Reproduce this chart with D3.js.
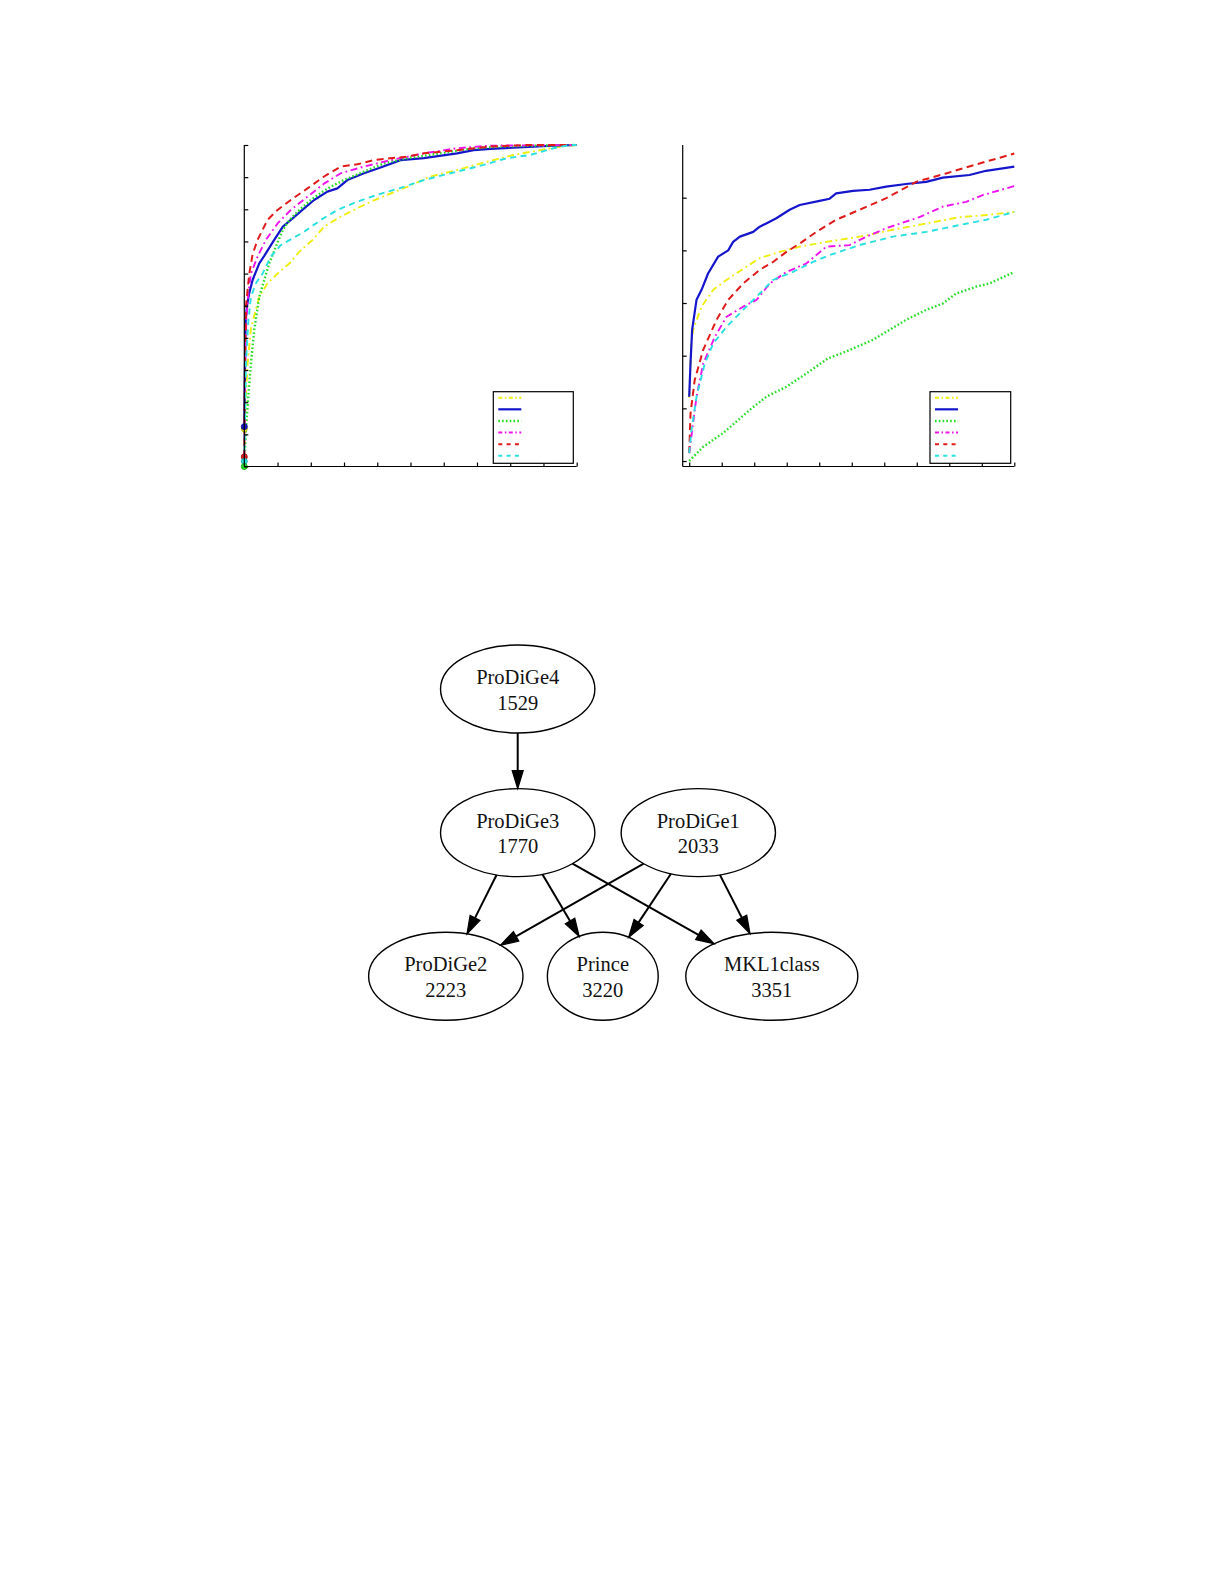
<!DOCTYPE html>
<html>
<head>
<meta charset="utf-8">
<script src="https://cdn.jsdelivr.net/npm/d3@7/dist/d3.min.js"></script>
<style>
  html, body { margin: 0; padding: 0; background: #fff; }
  svg { display: block; }
</style>
</head>
<body>
<svg id="fig" width="1225" height="1585"></svg>
<script>
// ---------------- DATA ----------------
const seriesKeys = ["yellow", "blue", "green", "magenta", "red", "cyan"];

// Left panel curves [x, y]
const leftYellow = [[0,0.117],[0.005,0.22],[0.01,0.32],[0.02,0.43],[0.045,0.528],[0.07,0.57],[0.1,0.6],[0.136,0.632],[0.171,0.674],[0.206,0.705],[0.24,0.746],[0.29,0.777],[0.33,0.798],[0.37,0.819],[0.43,0.845],[0.49,0.87],[0.56,0.902],[0.64,0.922],[0.73,0.948],[0.81,0.969],[0.89,0.984],[0.96,0.997],[1,1]];
const leftBlue = [[0,0.124],[0.002,0.3],[0.004,0.45],[0.008,0.5],[0.015,0.54],[0.025,0.58],[0.045,0.632],[0.06,0.655],[0.09,0.705],[0.116,0.746],[0.14,0.767],[0.18,0.803],[0.21,0.829],[0.25,0.855],[0.28,0.865],[0.31,0.891],[0.36,0.912],[0.41,0.93],[0.47,0.953],[0.54,0.959],[0.64,0.974],[0.69,0.984],[0.74,0.988],[0.84,0.993],[0.93,0.998],[1,1]];
const leftGreen = [[0,0],[0.005,0.114],[0.012,0.218],[0.02,0.321],[0.03,0.425],[0.045,0.528],[0.06,0.58],[0.075,0.632],[0.095,0.684],[0.116,0.736],[0.136,0.767],[0.166,0.798],[0.2,0.829],[0.236,0.855],[0.26,0.87],[0.3,0.891],[0.36,0.917],[0.42,0.943],[0.49,0.959],[0.59,0.974],[0.69,0.99],[0.77,0.995],[0.88,0.998],[1,1]];
const leftMagenta = [[0,0.03],[0.002,0.3],[0.006,0.45],[0.012,0.54],[0.02,0.6],[0.04,0.653],[0.065,0.705],[0.1,0.756],[0.14,0.798],[0.19,0.839],[0.24,0.88],[0.29,0.912],[0.36,0.933],[0.44,0.953],[0.54,0.974],[0.64,0.99],[0.74,0.998],[1,1]];
const leftRed = [[0,0.03],[0.002,0.3],[0.005,0.5],[0.015,0.6],[0.025,0.66],[0.04,0.705],[0.07,0.767],[0.1,0.798],[0.14,0.829],[0.19,0.865],[0.24,0.902],[0.29,0.933],[0.34,0.94],[0.39,0.953],[0.49,0.964],[0.54,0.974],[0.64,0.984],[0.74,0.995],[0.84,1],[1,1]];
const leftCyan = [[0,0.016],[0.005,0.321],[0.012,0.45],[0.02,0.528],[0.035,0.57],[0.055,0.6],[0.08,0.653],[0.11,0.689],[0.18,0.73],[0.23,0.767],[0.28,0.798],[0.34,0.824],[0.4,0.845],[0.48,0.87],[0.54,0.891],[0.62,0.912],[0.72,0.938],[0.79,0.959],[0.86,0.969],[0.93,0.99],[0.98,1],[1,1]];

// Right panel curves [x, y]
const rightYellow = [[0,0.12],[0.006,0.22],[0.012,0.249],[0.038,0.293],[0.074,0.325],[0.115,0.344],[0.176,0.369],[0.217,0.385],[0.278,0.397],[0.34,0.407],[0.422,0.416],[0.524,0.426],[0.626,0.439],[0.729,0.451],[0.831,0.463],[0.913,0.467],[1,0.473]];
const rightBlue = [[0,0.122],[0.004,0.185],[0.009,0.249],[0.0225,0.306],[0.038,0.325],[0.058,0.356],[0.089,0.388],[0.12,0.4],[0.135,0.416],[0.156,0.426],[0.197,0.435],[0.217,0.445],[0.237,0.451],[0.268,0.461],[0.309,0.477],[0.34,0.486],[0.401,0.494],[0.432,0.498],[0.452,0.508],[0.504,0.513],[0.555,0.515],[0.606,0.521],[0.667,0.526],[0.729,0.53],[0.78,0.538],[0.862,0.543],[0.913,0.551],[1,0.559]];
const rightGreen = [[0,0],[0.043,0.027],[0.104,0.053],[0.14,0.072],[0.186,0.097],[0.237,0.122],[0.299,0.141],[0.36,0.166],[0.427,0.195],[0.483,0.208],[0.565,0.23],[0.616,0.249],[0.667,0.268],[0.729,0.287],[0.78,0.299],[0.821,0.318],[0.882,0.331],[0.923,0.337],[0.99,0.356],[1,0.358]];
const rightMagenta = [[0,0.015],[0.0225,0.122],[0.043,0.185],[0.079,0.236],[0.115,0.274],[0.166,0.293],[0.207,0.306],[0.248,0.337],[0.299,0.359],[0.36,0.375],[0.422,0.407],[0.493,0.41],[0.545,0.426],[0.606,0.442],[0.708,0.463],[0.78,0.483],[0.852,0.492],[0.903,0.505],[1,0.522]];
const rightRed = [[0,0.015],[0.004,0.09],[0.017,0.154],[0.043,0.211],[0.084,0.268],[0.12,0.306],[0.166,0.337],[0.217,0.363],[0.258,0.378],[0.299,0.397],[0.34,0.413],[0.391,0.435],[0.452,0.458],[0.524,0.477],[0.606,0.499],[0.698,0.53],[0.79,0.546],[0.893,0.565],[0.985,0.581],[1,0.584]];
const rightCyan = [[0,0.015],[0.007,0.059],[0.0225,0.122],[0.048,0.185],[0.074,0.223],[0.115,0.255],[0.166,0.287],[0.217,0.318],[0.258,0.344],[0.319,0.359],[0.381,0.378],[0.432,0.391],[0.524,0.41],[0.626,0.426],[0.729,0.435],[0.831,0.448],[0.913,0.458],[1,0.473]];

// Start markers on the left panel (series whose first point is marked)
const leftMarkerSeries = ["yellow", "blue", "red", "cyan", "green"];

// Tick values
const leftXTicks = [0.1,0.2,0.3,0.4,0.5,0.6,0.7,0.8,0.9,1.0];
const leftYTicks = [0,0.1,0.2,0.3,0.4,0.5,0.6,0.7,0.8,0.9,1.0];
const rightXTicks = [0,0.1,0.2,0.3,0.4,0.5,0.6,0.7,0.8,0.9,1.0];
const rightYTicks = [0,0.1,0.2,0.3,0.4,0.5];

// Graph data
const nodeNames = ["ProDiGe4", "ProDiGe3", "ProDiGe1", "ProDiGe2", "Prince", "MKL1class"];
const nodeCounts = [1529, 1770, 2033, 2223, 3220, 3351];
const nodeRanks = [0, 1, 1, 2, 2, 2];
const edgeList = [
  ["ProDiGe4", "ProDiGe3"],
  ["ProDiGe3", "ProDiGe2"],
  ["ProDiGe3", "Prince"],
  ["ProDiGe3", "MKL1class"],
  ["ProDiGe1", "ProDiGe2"],
  ["ProDiGe1", "Prince"],
  ["ProDiGe1", "MKL1class"]
];

// ---------------- STYLE / LAYOUT ----------------
const styles = {
  yellow:  { color: "#eeee10", width: 1.9, dash: "7,3.5,1.8,3.5", ldash: "4,2.5,1.5,2.5" },
  blue:    { color: "#1515cc", width: 2.2, dash: null, ldash: null },
  green:   { color: "#25dd25", width: 2.4, dash: "1.6,2.2", ldash: "1.6,2.2" },
  magenta: { color: "#ee12ee", width: 1.9, dash: "7,3.5,1.8,3.5", ldash: "4,2.5,1.5,2.5" },
  red:     { color: "#e01a1a", width: 2.0, dash: "7,4.5", ldash: "4,4.3" },
  cyan:    { color: "#28e0e0", width: 1.9, dash: "6,4.5", ldash: "4,4.3" }
};

const svg = d3.select("#fig");
svg.append("rect").attr("width", 1225).attr("height", 1585).attr("fill", "#fff");

function drawPanel(cfg) {
  const g = svg.append("g");
  const x = d3.scaleLinear().domain(cfg.xDomain).range(cfg.xRange);
  const y = d3.scaleLinear().domain(cfg.yDomain).range(cfg.yRange);
  const line = d3.line().x(d => x(d[0])).y(d => y(d[1]));

  seriesKeys.forEach(k => {
    const s = styles[k];
    g.append("path")
      .datum(cfg.series[k])
      .attr("d", line)
      .attr("fill", "none")
      .attr("stroke", s.color)
      .attr("stroke-width", s.width)
      .attr("stroke-dasharray", s.dash)
      .attr("stroke-linejoin", "round");
  });

  if (cfg.markers) {
    cfg.markers.forEach(k => {
      const d = cfg.series[k][0];
      g.append("circle")
        .attr("cx", x(d[0])).attr("cy", y(d[1])).attr("r", 3)
        .attr("fill", styles[k].color)
        .attr("stroke", d3.color(styles[k].color).darker(0.8))
        .attr("stroke-width", 0.9);
    });
  }

  const xAxis = d3.axisTop(x).tickValues(cfg.xTicks).tickSize(4).tickSizeOuter(0).tickFormat("");
  const yAxis = d3.axisRight(y).tickValues(cfg.yTicks).tickSize(4).tickSizeOuter(0).tickFormat("");
  const gx = g.append("g").attr("transform", `translate(0,${cfg.yRange[0]})`).call(xAxis);
  const gy = g.append("g").attr("transform", `translate(${cfg.xRange[0]},0)`).call(yAxis);
  [gx, gy].forEach(a => {
    a.select(".domain").attr("stroke", "#000").attr("stroke-width", 1.2);
    a.selectAll(".tick line").attr("stroke", "#000").attr("stroke-width", 1.2);
  });
  gx.select(".domain").attr("d", `M${cfg.xRange[0]},0H${cfg.xRange[1]}`);
  gy.select(".domain").attr("d", `M0,${cfg.yRange[0]}V${cfg.yRange[1]}`);

  const lg = g.append("g").attr("transform", `translate(${cfg.legend.x},${cfg.legend.y})`);
  lg.append("rect").attr("width", cfg.legend.w).attr("height", cfg.legend.h)
    .attr("fill", "#fff").attr("stroke", "#000").attr("stroke-width", 1.2);
  const ly = d3.scalePoint().domain(seriesKeys).range([6, cfg.legend.h - 7.5]);
  seriesKeys.forEach(k => {
    const s = styles[k];
    lg.append("line")
      .attr("x1", 5).attr("x2", 28)
      .attr("y1", ly(k)).attr("y2", ly(k))
      .attr("stroke", s.color)
      .attr("stroke-width", s.width)
      .attr("stroke-dasharray", s.ldash);
  });
}

drawPanel({
  xDomain: [0, 1], xRange: [244.3, 576.7],
  yDomain: [0, 1], yRange: [466.5, 145],
  xTicks: leftXTicks, yTicks: leftYTicks,
  series: { yellow: leftYellow, blue: leftBlue, green: leftGreen, magenta: leftMagenta, red: leftRed, cyan: leftCyan },
  markers: leftMarkerSeries,
  legend: { x: 493.3, y: 391.7, w: 80, h: 71.6 }
});

drawPanel({
  xDomain: [-0.02, 1], xRange: [682.7, 1014.3],
  yDomain: [-0.0104, 0.6], yRange: [466.5, 145],
  xTicks: rightXTicks, yTicks: rightYTicks,
  series: { yellow: rightYellow, blue: rightBlue, green: rightGreen, magenta: rightMagenta, red: rightRed, cyan: rightCyan },
  markers: null,
  legend: { x: 930, y: 391.7, w: 80.7, h: 71.6 }
});

// ---------------- GRAPH ----------------
const graphLayout = {
  rankY: d3.scaleLinear().domain([0, 2]).range([689, 976.3]),
  xByName: { "ProDiGe4": 517.7, "ProDiGe3": 517.7, "ProDiGe1": 698.3, "ProDiGe2": 445.8, "Prince": 602.8, "MKL1class": 771.8 },
  ry: 44,
  margin: 13,
  font: "'Liberation Serif', 'Times New Roman', serif",
  fontSize: 20.5
};

const gg = svg.append("g");
const nodes = nodeNames.map((n, i) => ({ name: n, count: nodeCounts[i], rank: nodeRanks[i] }));
const nodeByName = {};

nodes.forEach(n => {
  n.cx = graphLayout.xByName[n.name];
  n.cy = graphLayout.rankY(n.rank);
  const ng = gg.append("g");
  const t1 = ng.append("text").attr("x", n.cx).attr("y", n.cy - 5)
    .attr("text-anchor", "middle").attr("font-family", graphLayout.font)
    .attr("font-size", graphLayout.fontSize).attr("fill", "#111").text(n.name);
  const t2 = ng.append("text").attr("x", n.cx).attr("y", n.cy + 20.5)
    .attr("text-anchor", "middle").attr("font-family", graphLayout.font)
    .attr("font-size", graphLayout.fontSize).attr("fill", "#111").text(n.count);
  const tw = Math.max(t1.node().getComputedTextLength(), t2.node().getComputedTextLength());
  n.rx = (tw / 2 + graphLayout.margin) * Math.SQRT2;
  n.ry = graphLayout.ry;
  ng.insert("ellipse", "text").attr("cx", n.cx).attr("cy", n.cy).attr("rx", n.rx).attr("ry", n.ry)
    .attr("fill", "none").attr("stroke", "#000").attr("stroke-width", 1.4);
  nodeByName[n.name] = n;
});

function boundary(n, dx, dy) {
  const t = 1 / Math.sqrt((dx / n.rx) ** 2 + (dy / n.ry) ** 2);
  return [n.cx + dx * t, n.cy + dy * t];
}

const arrowLen = 18, arrowHalf = 5.5;
edgeList.forEach(([s, t]) => {
  const a = nodeByName[s], b = nodeByName[t];
  const dx = b.cx - a.cx, dy = b.cy - a.cy;
  const p0 = boundary(a, dx, dy);
  const p1 = boundary(b, -dx, -dy);
  const L = Math.hypot(p1[0] - p0[0], p1[1] - p0[1]);
  const ux = (p1[0] - p0[0]) / L, uy = (p1[1] - p0[1]) / L;
  const base = [p1[0] - ux * arrowLen, p1[1] - uy * arrowLen];
  gg.append("line")
    .attr("x1", p0[0]).attr("y1", p0[1]).attr("x2", base[0]).attr("y2", base[1])
    .attr("stroke", "#000").attr("stroke-width", 2);
  const px = -uy, py = ux;
  gg.append("path")
    .attr("d", d3.line()([
      [base[0] + px * arrowHalf, base[1] + py * arrowHalf],
      p1,
      [base[0] - px * arrowHalf, base[1] - py * arrowHalf]
    ]) + "Z")
    .attr("fill", "#000").attr("stroke", "#000").attr("stroke-width", 1.2);
});
</script>
</body>
</html>
